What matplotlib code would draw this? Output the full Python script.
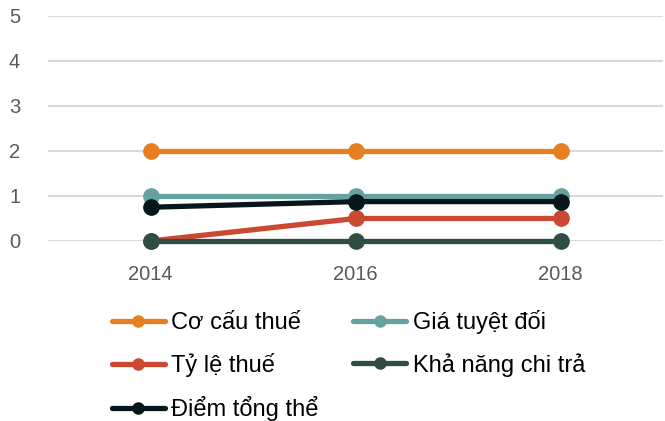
import matplotlib
matplotlib.use("Agg")
import matplotlib.pyplot as plt
from matplotlib.lines import Line2D

plt.rcParams["font.family"] = ["Liberation Sans", "DejaVu Sans"]

years = ["2014", "2016", "2018"]
co_cau_thue = [2, 2, 2]
gia_tuyet_doi = [1, 1, 1]
ty_le_thue = [0, 0.5, 0.5]
kha_nang_chi_tra = [0, 0, 0]
diem_tong_the = [0.75, 0.875, 0.875]

names = ["Cơ cấu thuế", "Giá tuyệt đối", "Tỷ lệ thuế", "Khả năng chi trả", "Điểm tổng thể"]
series = [co_cau_thue, gia_tuyet_doi, ty_le_thue, kha_nang_chi_tra, diem_tong_the]
colors = ["#E67E22", "#66A3A0", "#CB4832", "#2E4D43", "#06161B"]

fig = plt.figure(figsize=(6.65, 4.21), dpi=100)
ax = fig.add_axes([0.0722, 0.4276, 0.925, 0.5344])

x = list(range(len(years)))
for vals, c in zip(series, colors):
    ax.plot(x, vals, color=c, lw=3.8, marker="o", markersize=11,
            solid_capstyle="round", clip_on=False)

ax.set_xlim(-0.5, 2.5)
ax.set_ylim(0, 5)
ax.set_yticks(range(6))
ax.set_xticks(x)
ax.set_xticklabels(years)
ax.grid(axis="y", color="#D9D9D9", lw=1.5)
ax.set_axisbelow(True)
for s in ax.spines.values():
    s.set_visible(False)
ax.tick_params(length=0, labelsize=14.5, labelcolor="#595959")
ax.tick_params(axis="y", pad=20)
ax.tick_params(axis="x", pad=17)

# legend: column-major order so rows read left to right
order = [0, 2, 4, 1, 3]
handles = [Line2D([], [], color=colors[i], lw=3.8, marker="o", markersize=8,
                  solid_capstyle="round") for i in order]
labels = [names[i] for i in order]
fig.legend(handles, labels, ncol=2, frameon=False, loc="upper left",
           bbox_to_anchor=(0.168, 0.263), fontsize=17, handlelength=2.25,
           handletextpad=0.28, columnspacing=1.45, labelspacing=0.8, borderpad=0,
           borderaxespad=0)

fig.savefig("out.png", dpi=100)
